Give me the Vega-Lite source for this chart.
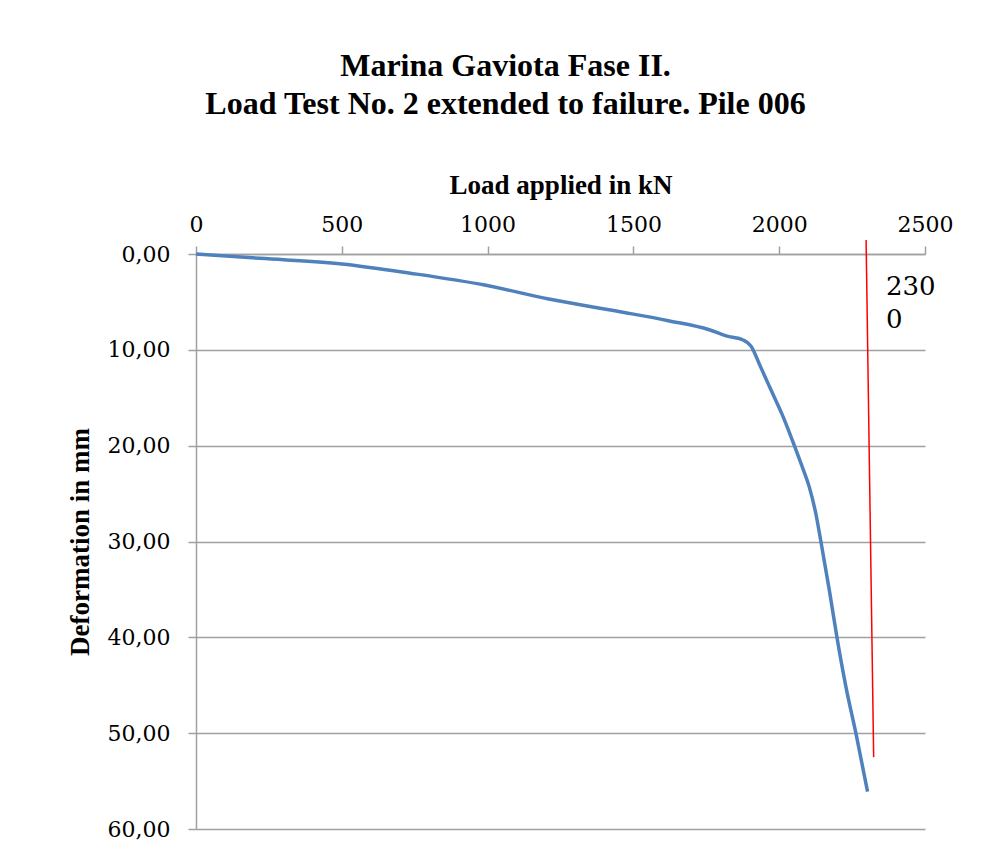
{
  "$schema": "https://vega.github.io/schema/vega-lite/v6.json",
  "width": 729,
  "height": 575,
  "autosize": "none",
  "padding": {"left": 196, "top": 254, "right": 78, "bottom": 37},
  "background": "white",
  "title": {
    "text": ["Marina Gaviota Fase II.", "Load Test No. 2 extended to failure. Pile 006"],
    "font": "Liberation Serif",
    "fontSize": 32,
    "fontWeight": "bold",
    "color": "black",
    "anchor": "middle",
    "frame": "group",
    "dx": -55,
    "offset": 50,
    "lineHeight": 38
  },
  "config": {
    "view": {"stroke": null},
    "axis": {
      "labelFont": "DejaVu Serif",
      "labelFontSize": 22,
      "labelColor": "black",
      "titleFont": "Liberation Serif",
      "titleFontWeight": "bold",
      "titleFontSize": 27,
      "titleColor": "black",
      "domainColor": "#a0a0a0",
      "domainWidth": 1.5,
      "tickColor": "#a0a0a0",
      "tickWidth": 1.5,
      "tickSize": 8,
      "gridColor": "#a0a0a0",
      "gridWidth": 1.5
    }
  },
  "encoding": {
    "x": {
      "field": "load",
      "type": "quantitative",
      "scale": {"domain": [0, 2500], "nice": false, "zero": false},
      "axis": {
        "orient": "top",
        "title": "Load applied in kN",
        "values": [0, 500, 1000, 1500, 2000, 2500],
        "format": "d",
        "grid": false,
        "labelPadding": 10,
        "titlePadding": 14,
        "labelFlush": false
      }
    },
    "y": {
      "field": "def",
      "type": "quantitative",
      "scale": {"domain": [0, 60], "reverse": true, "nice": false, "zero": false},
      "axis": {
        "title": "Deformation in mm",
        "values": [0, 10, 20, 30, 40, 50, 60],
        "labelExpr": "replace(format(datum.value, '.2f'), '.', ',')",
        "grid": true,
        "labelPadding": 18,
        "titlePadding": 13
      }
    }
  },
  "layer": [
    {
      "data": {
        "values": [
          {"load": 0, "def": 0},
          {"load": 220, "def": 0.45},
          {"load": 500, "def": 1.04},
          {"load": 735, "def": 2.0},
          {"load": 990, "def": 3.24},
          {"load": 1210, "def": 4.7},
          {"load": 1450, "def": 6.0},
          {"load": 1620, "def": 6.96},
          {"load": 1760, "def": 7.9},
          {"load": 1825, "def": 8.6},
          {"load": 1876, "def": 8.97},
          {"load": 1903, "def": 9.6},
          {"load": 1935, "def": 11.7},
          {"load": 1972, "def": 14.2},
          {"load": 2015, "def": 17.1},
          {"load": 2052, "def": 20.0},
          {"load": 2080, "def": 22.3},
          {"load": 2103, "def": 24.3},
          {"load": 2125, "def": 27.0},
          {"load": 2143, "def": 30.0},
          {"load": 2172, "def": 35.1},
          {"load": 2198, "def": 40.0},
          {"load": 2229, "def": 45.2},
          {"load": 2263, "def": 50.0},
          {"load": 2303, "def": 56.1}
        ]
      },
      "mark": {"type": "line", "color": "#4f81bd", "strokeWidth": 3.5, "interpolate": "monotone"}
    },
    {
      "data": {"values": [{"load": 2298, "def": -1.46}, {"load": 2324, "def": 52.5}]},
      "mark": {"type": "line", "color": "#ff0000", "strokeWidth": 1.5}
    },
    {
      "data": {"values": [{"load": 2366, "def": 4.3, "label": "230\n0"}]},
      "mark": {
        "type": "text",
        "align": "left",
        "baseline": "alphabetic",
        "font": "DejaVu Serif",
        "fontSize": 26,
        "lineBreak": "\n",
        "lineHeight": 33,
        "color": "black"
      },
      "encoding": {"text": {"field": "label"}}
    }
  ]
}
